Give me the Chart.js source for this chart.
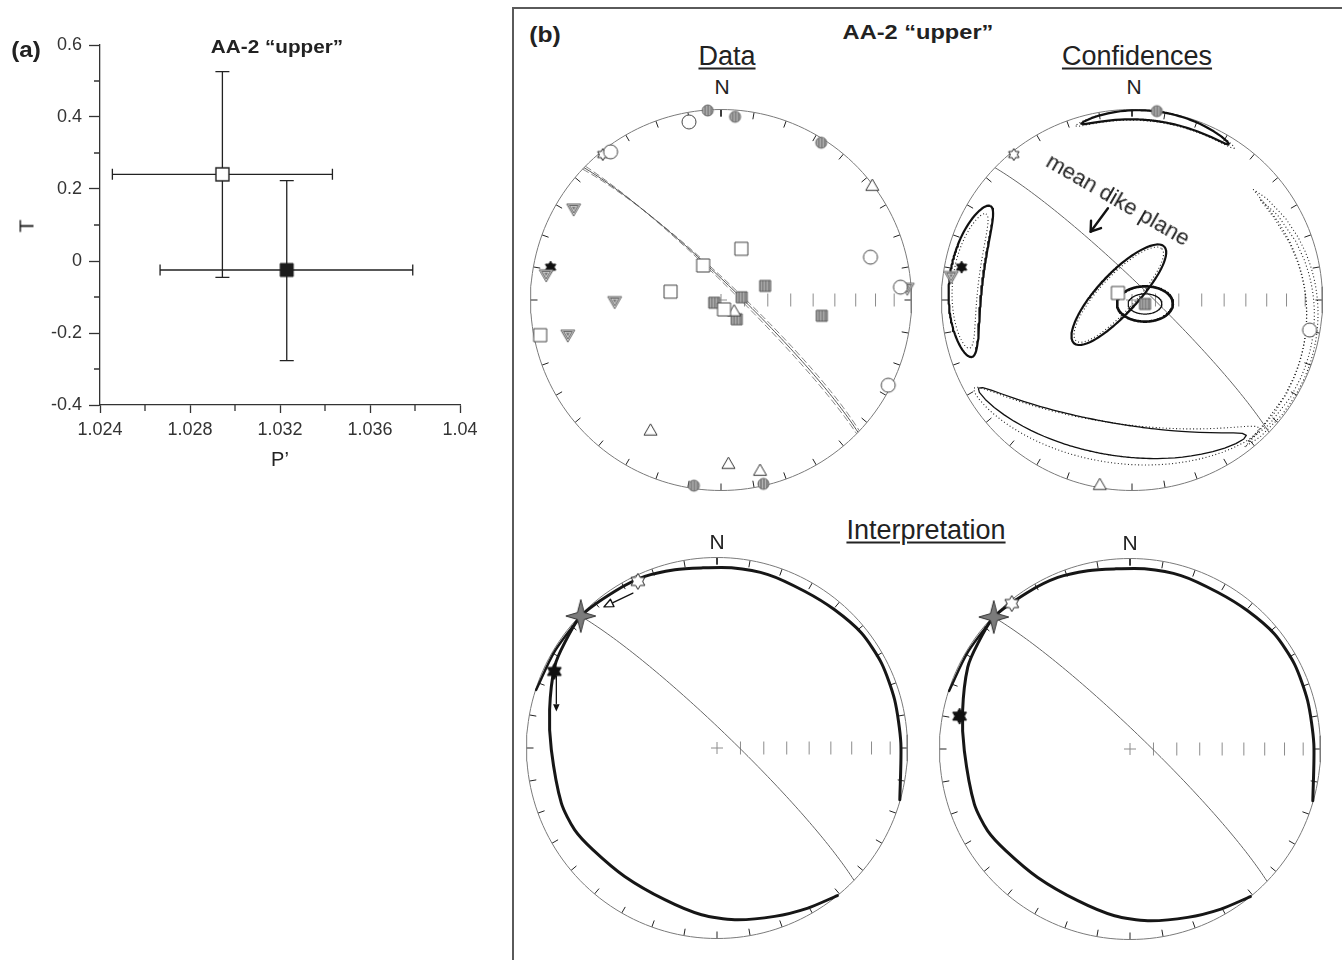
<!DOCTYPE html>
<html>
<head>
<meta charset="utf-8">
<title>AA-2 upper</title>
<script src="https://cdn.jsdelivr.net/npm/chart.js@4.4.1/dist/chart.umd.min.js"></script>
<style>
  html, body { margin: 0; padding: 0; background: #fff; }
  body { position: relative; width: 1342px; height: 960px; overflow: hidden;
         font-family: "Liberation Sans", Arial, Helvetica, sans-serif; color: #222; }
  canvas { position: absolute; }
  .lbl { position: absolute; line-height: 1; white-space: nowrap; transform: translate(-50%, -50%); }
  .b { font-weight: bold; }
  .u { text-decoration: underline; text-decoration-thickness: 2px; text-underline-offset: 3px; }
  #frameB { position: absolute; left: 512px; top: 7px; width: 900px; height: 1000px;
            border-left: 2px solid #5a5a5a; border-top: 2px solid #5a5a5a; }
</style>
</head>
<body>
<div id="frameB"></div>
<canvas id="chartA" width="500" height="490" style="left:0;top:0"></canvas>
<canvas id="netData" width="400" height="400" style="left:521px;top:100px"></canvas>
<canvas id="netConf" width="400" height="400" style="left:932px;top:100px"></canvas>
<canvas id="netInterpA" width="400" height="400" style="left:517px;top:548px"></canvas>
<canvas id="netInterpB" width="400" height="400" style="left:930px;top:549px"></canvas>

<div class="lbl b" style="left:26px;top:50px;font-size:22px;transform:translate(-50%,-50%) scaleX(1.1)">(a)</div>
<div class="lbl b" style="left:277px;top:47px;font-size:18px;transform:translate(-50%,-50%) scaleX(1.15)">AA-2 “upper”</div>
<div class="lbl" style="left:26px;top:226px;font-size:21px;transform:translate(-50%,-50%) rotate(-90deg)">T</div>
<div class="lbl" style="left:280px;top:459px;font-size:20px">P’</div>

<div class="lbl b" style="left:545px;top:35px;font-size:22px;transform:translate(-50%,-50%) scaleX(1.12)">(b)</div>
<div class="lbl b" style="left:918px;top:32px;font-size:20px;transform:translate(-50%,-50%) scaleX(1.18)">AA-2 “upper”</div>
<div class="lbl u" style="left:727px;top:56px;font-size:27px">Data</div>
<div class="lbl u" style="left:1137px;top:56px;font-size:27px">Confidences</div>
<div class="lbl u" style="left:926px;top:530px;font-size:27px">Interpretation</div>
<div class="lbl" style="left:722px;top:86px;font-size:21px">N</div>
<div class="lbl" style="left:1134px;top:86px;font-size:21px">N</div>
<div class="lbl" style="left:717px;top:541px;font-size:21px">N</div>
<div class="lbl" style="left:1130px;top:542px;font-size:21px">N</div>
<div class="lbl" style="left:1118px;top:200px;font-size:22px;transform:translate(-50%,-50%) rotate(30deg)">mean dike plane</div>

<script>
// ---- (a) P' vs T: site means with confidence limits ----
const pPrime = [1.02944, 1.0323];
const tShape = [0.2407, -0.025];
const pLow = [1.02455, 1.02667];
const pHigh = [1.03433, 1.0379];
const tLow = [-0.0454, -0.2769];
const tHigh = [0.5259, 0.2231];
const xTickValues = [1.024, 1.028, 1.032, 1.036, 1.04];
const yTickValues = [-0.4, -0.2, 0, 0.2, 0.4, 0.6];
const xMinorValues = [1.026, 1.03, 1.034, 1.038];
const yMinorValues = [-0.3, -0.1, 0.1, 0.3, 0.5];

// ---- (b) principal axes, [trend, plunge] in degrees ----
const amsK1 = [[21.7, 66.4], [332.7, 73.4], [279.4, 68.1], [162.1, 85.8], [259, 3.7]];
const amsK2 = [[52.9, 0.5], [130.2, 82.7], [208.4, 23.3], [177.4, 15.1], [167.1, 9]];
const amsK3 = [[349.8, 5.6], [323.3, 3.4], [74, 19.5], [85.9, 6.2], [117, 1.7]];
const aarmK1 = [[72.3, 70.2], [82.6, 81.1], [248.1, 86.9], [140.9, 79.4], [98.9, 45.5]];
const aarmK2 = [[301.7, 10], [278.2, 8.1], [86.4, 2.3], [269.1, 43.5], [257.1, 18.6]];
const aarmK3 = [[356, 0.3], [4.4, 4], [32.5, 2.4], [188.3, 1.7], [167, 1.1]];
const starOpen = [[320.9, 1.8]];
const starSolid = [[280.9, 9.8]];

// means
const meanAmsK1 = [[296.6, 83.3]];
const meanAmsK2 = [[189.9, 1.8]];
const meanAmsK3 = [[99.6, 6.1]];
const meanAarmK1 = [[107, 84.2]];
const meanAarmK2 = [[277.4, 4.8]];
const meanAarmK3 = [[7.5, 0]];

// mean dike plane and its spread: [dip direction, dip]
const dikePlane = [44, 83.3];
const dikePlaneLow = [43.4, 82.6];
const dikePlaneHigh = [44.6, 84.1];

// confidence regions: [trend, plunge, semi-axis a, semi-axis b, azimuth of a, bend]
const amsK1Region = [293, 83.5, 28.4, 8.5, 43, 0];
const amsK1Boot = [293, 83.5, 27, 7.5, 43, 0];
const amsK2Region = [190, 27, 50, 8, 280, -11];
const amsK2Boot = [188, 25, 53, 10, 278, -11];
const amsK3Boot = [95, 5.5, 47, 3.2, 177, 6];
const amsK3Boot2 = [96, 6.5, 44, 2.2, 178, 6];
const aarmK1Region = [107, 84.2, 11.9, 7.5, 90, 0];
const aarmK1Inner = [107, 84.2, 7.2, 4.3, 90, 0];
const aarmK2Region = [277, 13, 26, 9, 7, 0];
const aarmK2Boot = [277, 13, 23, 7, 7, 0];
const aarmK3Region = [8, 3, 24, 2.8, 98, 1.5];
const aarmK3Boot = [8, 3.3, 26, 3, 98, 1.5];

// interpretation path and moved directions
const pathTrend = [140.8, 150.4, 161.1, 174.1, 185.3, 199.0, 215.7, 230.6, 240.1, 250.5, 269.4, 282.9, 296.7, 304.6,
  314.1, 326.8, 337.2, 346.7, 355.0, 4.6, 16.4, 29.2, 40.4, 51.5, 62.7, 74.8, 88.4, 105.8];
const pathPlunge = [0, 3.8, 7.3, 10.3, 13.1, 16.9, 18.1, 16.9, 14.9, 14.4, 14.1, 10.8, 5.2, 3.2,
  0.5, 2.0, 2.6, 4.3, 5.7, 5.7, 5.7, 6.4, 5.3, 3.5, 3.2, 3.8, 3.9, 0.3];
const branchTrend = [314.1, 301, 287.8];
const branchPlunge = [0.5, 1.0, 0.3];
const strikeStar = [[314.1, 0.5]];
const starOpenMoved = [[334.6, 3.6]];
const starSolidMoved = [[295.2, 6.3]];
const moveOpen = [[331.5, 8.3], [321.3, 5.7]];
const moveSolid = [[294, 8.5], [282.8, 14.6]];
const labelArrow = [[345.3, 48.8], [328.8, 55.5]];

Chart.defaults.font.family = '"Liberation Sans", Arial, Helvetica, sans-serif';
Chart.defaults.color = '#333';

const DEG = Math.PI / 180;
const NET_R = 190.5;
const LIM = 200 / NET_R;

function dirVec(trend, plunge) {
  const t = trend * DEG, p = plunge * DEG;
  return [Math.cos(p) * Math.cos(t), Math.cos(p) * Math.sin(t), Math.sin(p)];
}
// lower hemisphere equal-area, primitive radius 1
function toNet(v) {
  let [n, e, d] = v;
  if (d < 0) { n = -n; e = -e; d = -d; }
  const h = Math.hypot(n, e);
  const r = Math.SQRT2 * Math.sin(Math.acos(Math.min(1, d)) / 2);
  return h < 1e-12 ? { x: 0, y: 0 } : { x: r * e / h, y: r * n / h };
}
const projectAll = list => list.map(([t, p]) => toNet(dirVec(t, p)));
const zip = (a, b) => a.map((v, i) => [v, b[i]]);
const GAP = { x: null, y: null };

function greatCircle([dipDir, dip]) {
  const s = dirVec(dipDir - 90, 0), dv = dirVec(dipDir, dip);
  const out = [];
  for (let w = 0; w <= 180; w += 2) {
    const c = Math.cos(w * DEG), sn = Math.sin(w * DEG);
    out.push(toNet([s[0] * c + dv[0] * sn, s[1] * c + dv[1] * sn, s[2] * c + dv[2] * sn]));
  }
  return out;
}

function region([trend, plunge, a, b, axisAz, bend]) {
  const c = dirVec(trend, plunge);
  const t = trend * DEG, p = plunge * DEG;
  const eH = [-Math.sin(t), Math.cos(t), 0];
  const eD = [-Math.sin(p) * Math.cos(t), -Math.sin(p) * Math.sin(t), Math.cos(p)];
  const al = (axisAz - trend - 90) * DEG;
  const out = [];
  let lastSign = null;
  for (let k = 0; k <= 180; k++) {
    const psi = k * 2 * Math.PI / 180;
    const rho = a * b / Math.hypot(b * Math.cos(psi), a * Math.sin(psi));
    const u = rho * Math.cos(psi);
    const v = rho * Math.sin(psi) + bend * (u / a) ** 2;
    const U = u * Math.cos(al) - v * Math.sin(al);
    const V = u * Math.sin(al) + v * Math.cos(al);
    const len = Math.hypot(U, V) || 1e-9;
    const ang = len * DEG;
    const vec = [0, 1, 2].map(i => c[i] * Math.cos(ang) + (U * eH[i] + V * eD[i]) / len * Math.sin(ang));
    const sign = vec[2] >= 0;
    if (lastSign !== null && sign !== lastSign) out.push(GAP);
    lastSign = sign;
    out.push(toNet(vec));
  }
  return out;
}

// ---- symbols ----
const hatchTile = (() => {
  const p = document.createElement('canvas');
  p.width = 3; p.height = 3;
  const g = p.getContext('2d');
  g.fillStyle = '#b2b2b2'; g.fillRect(0, 0, 3, 3);
  g.fillStyle = '#5a5a5a'; g.fillRect(0, 0, 1, 3);
  return p;
})();
function makeSymbol(size, paint) {
  const c = document.createElement('canvas');
  c.width = c.height = size + 4;
  const g = c.getContext('2d');
  g.translate(c.width / 2, c.height / 2);
  paint(g, size / 2);
  return c;
}
function finish(g, fill, stroke, w) {
  if (fill) { g.fillStyle = fill === 'hatch' ? g.createPattern(hatchTile, 'repeat') : fill; g.fill(); }
  if (stroke) { g.strokeStyle = stroke; g.lineWidth = w; g.stroke(); }
}
function tri(g, h, down) {
  const R = h / 0.866, s = down ? -1 : 1;
  g.beginPath();
  g.moveTo(0, -s * R);
  g.lineTo(h, s * R * 0.5);
  g.lineTo(-h, s * R * 0.5);
  g.closePath();
}
function star(g, outer, inner, n) {
  g.beginPath();
  for (let i = 0; i < 2 * n; i++) {
    const r = i % 2 ? inner : outer, a = -Math.PI / 2 + i * Math.PI / n;
    g.lineTo(r * Math.cos(a), r * Math.sin(a));
  }
  g.closePath();
}
const SYM = {
  openSquare: makeSymbol(13, (g, h) => { g.beginPath(); g.rect(-h, -h, 2 * h, 2 * h); finish(g, '#fff', '#444', 1); }),
  greySquare: makeSymbol(11, (g, h) => { g.beginPath(); g.rect(-h, -h, 2 * h, 2 * h); finish(g, 'hatch', '#555', 1); }),
  openCircle: makeSymbol(14, (g, h) => { g.beginPath(); g.arc(0, 0, h, 0, 2 * Math.PI); finish(g, '#fff', '#444', 1); }),
  greyCircle: makeSymbol(11, (g, h) => { g.beginPath(); g.arc(0, 0, h, 0, 2 * Math.PI); finish(g, 'hatch', '#666', 1); }),
  openTri: makeSymbol(13, (g, h) => { g.translate(0, 1); tri(g, h, false); finish(g, '#fff', '#333', 1); }),
  nestedTri: makeSymbol(14, (g, h) => {
    g.translate(0, -1);
    tri(g, h, true); finish(g, '#d6d6d6', '#666', 1);
    tri(g, h * 0.62, true); finish(g, null, '#666', 1);
    tri(g, h * 0.28, true); finish(g, '#777', null, 0);
  }),
  star6Open: makeSymbol(12, (g, h) => { star(g, h, h * 0.58, 6); finish(g, '#fff', '#222', 1); }),
  star6Solid: makeSymbol(12, (g, h) => { star(g, h, h * 0.58, 6); finish(g, '#111', '#111', 1); }),
  bigStar6Open: makeSymbol(16, (g, h) => { star(g, h, h * 0.58, 6); finish(g, '#fff', '#222', 1); }),
  bigStar6Solid: makeSymbol(16, (g, h) => { star(g, h, h * 0.58, 6); finish(g, '#111', '#111', 1); }),
  star4Grey: makeSymbol(34, (g) => {
    const pts = [[0, -16.5], [3.4, -3.4], [15, 0], [3.4, 3.4], [0, 16.5], [-3.4, 3.4], [-15, 0], [-3.4, -3.4]];
    g.beginPath(); pts.forEach(([x, y]) => g.lineTo(x, y)); g.closePath();
    finish(g, '#7b7b7b', '#333', 1);
  }),
  squareOpenA: makeSymbol(13, (g, h) => { g.beginPath(); g.rect(-h, -h, 2 * h, 2 * h); finish(g, '#fff', '#222', 1.4); }),
  squareSolidA: makeSymbol(13, (g, h) => { g.beginPath(); g.rect(-h, -h, 2 * h, 2 * h); finish(g, '#1c1c1c', '#1c1c1c', 1); })
};

// ---- panel (a) ----
const errorBars = {
  id: 'errorBars',
  beforeDatasetsDraw(chart) {
    const { ctx, scales: { x, y } } = chart;
    ctx.save();
    ctx.strokeStyle = '#222';
    ctx.lineWidth = 1.3;
    pPrime.forEach((p, i) => {
      const px = x.getPixelForValue(p), py = y.getPixelForValue(tShape[i]);
      const yTop = y.getPixelForValue(tHigh[i]), yBot = y.getPixelForValue(tLow[i]);
      const xL = x.getPixelForValue(pLow[i]), xR = x.getPixelForValue(pHigh[i]);
      ctx.beginPath();
      ctx.moveTo(px, yTop); ctx.lineTo(px, yBot);
      ctx.moveTo(px - 7, yTop); ctx.lineTo(px + 7, yTop);
      ctx.moveTo(px - 7, yBot); ctx.lineTo(px + 7, yBot);
      ctx.moveTo(xL, py); ctx.lineTo(xR, py);
      ctx.moveTo(xL, py - 5.5); ctx.lineTo(xL, py + 5.5);
      ctx.moveTo(xR, py - 5.5); ctx.lineTo(xR, py + 5.5);
      ctx.stroke();
    });
    ctx.restore();
  }
};
const minorTicks = {
  id: 'minorTicks',
  afterDraw(chart) {
    const { ctx, scales: { x, y }, chartArea } = chart;
    ctx.save();
    ctx.strokeStyle = '#333';
    ctx.lineWidth = 1.3;
    ctx.beginPath();
    xMinorValues.forEach(v => {
      const px = x.getPixelForValue(v);
      ctx.moveTo(px, chartArea.bottom); ctx.lineTo(px, chartArea.bottom + 6);
    });
    yMinorValues.forEach(v => {
      const py = y.getPixelForValue(v);
      ctx.moveTo(chartArea.left, py); ctx.lineTo(chartArea.left - 6, py);
    });
    ctx.stroke();
    ctx.restore();
  }
};
const fmt = v => String(+(+v).toFixed(3));
new Chart(document.getElementById('chartA'), {
  type: 'scatter',
  data: {
    datasets: [
      { data: [{ x: pPrime[0], y: tShape[0] }], pointStyle: SYM.squareOpenA, pointRadius: 6 },
      { data: [{ x: pPrime[1], y: tShape[1] }], pointStyle: SYM.squareSolidA, pointRadius: 6 }
    ]
  },
  options: {
    responsive: false, animation: false, events: [], devicePixelRatio: 1,
    layout: { autoPadding: false, padding: { left: 0, top: 45, right: 40, bottom: 0 } },
    plugins: { legend: { display: false }, tooltip: { enabled: false } },
    scales: {
      x: {
        type: 'linear', min: 1.024, max: 1.04,
        afterBuildTicks: s => { s.ticks = xTickValues.map(value => ({ value })); },
        afterFit: s => { s.height = 85; },
        border: { display: true, color: '#333', width: 1.3 },
        grid: { display: true, drawOnChartArea: false, tickLength: 8, tickColor: '#333', tickWidth: 1.3 },
        ticks: { callback: fmt, font: { size: 18 }, color: '#333', padding: 6, maxRotation: 0 }
      },
      y: {
        type: 'linear', min: -0.4, max: 0.6,
        afterBuildTicks: s => { s.ticks = yTickValues.map(value => ({ value })); },
        afterFit: s => { s.width = 100; },
        border: { display: true, color: '#333', width: 1.3 },
        grid: { display: true, drawOnChartArea: false, tickLength: 11, tickColor: '#333', tickWidth: 1.3 },
        ticks: { callback: fmt, font: { size: 18 }, color: '#333', padding: 7 }
      }
    }
  },
  plugins: [errorBars, minorTicks]
});

// ---- stereonets ----
function line(data, color, width, dash, order, extra) {
  return Object.assign({ data, showLine: true, borderColor: color, borderWidth: width, borderDash: dash || [],
    pointRadius: 0, fill: false, tension: 0, order, borderJoinStyle: 'round' }, extra || {});
}
function marks(list, symbol) {
  return { data: projectAll(list), pointStyle: symbol, pointRadius: 6, showLine: false, order: 0 };
}
function frame() {
  const prim = [];
  for (let a = 0; a <= 360; a += 2) prim.push({ x: Math.sin(a * DEG), y: Math.cos(a * DEG) });
  const ticks = [];
  const tl = 1 - 7 / NET_R;
  for (let a = 0; a < 360; a += 10) {
    const s = Math.sin(a * DEG), c = Math.cos(a * DEG);
    ticks.push({ x: s, y: c }, { x: s * tl, y: c * tl }, GAP);
  }
  const radial = [];
  const h = 6.5 / NET_R;
  for (let p = 80; p >= 10; p -= 10) {
    const x = toNet(dirVec(90, p)).x;
    radial.push({ x, y: -h }, { x, y: h }, GAP);
  }
  const k = 6 / NET_R;
  radial.push({ x: -k, y: 0 }, { x: k, y: 0 }, GAP, { x: 0, y: -k }, { x: 0, y: k });
  return [
    line(prim, '#7a7a7a', 1, [], 9),
    line(ticks, '#222', 1, [], 9),
    line(radial, '#8c8c8c', 1, [], 9)
  ];
}
function arrows(items) {
  return {
    id: 'arrows',
    afterDatasetsDraw(chart) {
      const { ctx, scales: { x, y } } = chart;
      items.forEach(({ path, head, width, size }) => {
        const a = projectAll([path[0]])[0], b = projectAll([path[1]])[0];
        const x1 = x.getPixelForValue(a.x), y1 = y.getPixelForValue(a.y);
        const x2 = x.getPixelForValue(b.x), y2 = y.getPixelForValue(b.y);
        const ang = Math.atan2(y2 - y1, x2 - x1);
        ctx.save();
        ctx.strokeStyle = '#111'; ctx.fillStyle = '#111'; ctx.lineWidth = width;
        ctx.lineCap = 'round'; ctx.lineJoin = 'round';
        const back = head === 'chevron' ? 0 : size;
        ctx.beginPath(); ctx.moveTo(x1, y1);
        ctx.lineTo(x2 - Math.cos(ang) * back, y2 - Math.sin(ang) * back); ctx.stroke();
        const spread = head === 'chevron' ? 0.6 : 0.42;
        const pA = [x2 - size * Math.cos(ang - spread), y2 - size * Math.sin(ang - spread)];
        const pB = [x2 - size * Math.cos(ang + spread), y2 - size * Math.sin(ang + spread)];
        ctx.beginPath();
        if (head === 'chevron') {
          ctx.moveTo(pA[0], pA[1]); ctx.lineTo(x2, y2); ctx.lineTo(pB[0], pB[1]); ctx.stroke();
        } else {
          ctx.moveTo(x2, y2); ctx.lineTo(pA[0], pA[1]); ctx.lineTo(pB[0], pB[1]); ctx.closePath();
          if (head === 'open') { ctx.fillStyle = '#fff'; ctx.fill(); ctx.lineWidth = 1.4; ctx.stroke(); }
          else ctx.fill();
        }
        ctx.restore();
      });
    }
  };
}
function makeNet(id, datasets, plugins) {
  return new Chart(document.getElementById(id), {
    type: 'scatter',
    data: { datasets },
    options: {
      responsive: false, animation: false, events: [], devicePixelRatio: 1,
      layout: { autoPadding: false, padding: 0 },
      plugins: { legend: { display: false }, tooltip: { enabled: false } },
      scales: {
        x: { type: 'linear', min: -LIM, max: LIM, display: false },
        y: { type: 'linear', min: -LIM, max: LIM, display: false }
      }
    },
    plugins: plugins || []
  });
}

const thinPlane = '#666';
const solidRegion = (r, w) => line(region(r), '#111', w, [], 3);
const dottedRegion = r => line(region(r), '#222', 1.1, [1, 2.4], 4);

makeNet('netData', [
  marks(amsK1, SYM.openSquare), marks(amsK2, SYM.openTri), marks(amsK3, SYM.openCircle),
  marks(aarmK1, SYM.greySquare), marks(aarmK2, SYM.nestedTri), marks(aarmK3, SYM.greyCircle),
  marks(starOpen, SYM.star6Open), marks(starSolid, SYM.star6Solid),
  line(greatCircle(dikePlane), '#555', 1, [], 5),
  line(greatCircle(dikePlaneLow), '#777', 0.9, [7, 3], 5),
  line(greatCircle(dikePlaneHigh), '#777', 0.9, [7, 3], 5),
  ...frame()
]);

makeNet('netConf', [
  marks(meanAmsK1, SYM.openSquare), marks(meanAmsK2, SYM.openTri), marks(meanAmsK3, SYM.openCircle),
  marks(meanAarmK1, SYM.greySquare), marks(meanAarmK2, SYM.nestedTri), marks(meanAarmK3, SYM.greyCircle),
  marks(starOpen, SYM.star6Open), marks(starSolid, SYM.star6Solid),
  solidRegion(amsK1Region, 2.2), dottedRegion(amsK1Boot),
  solidRegion(amsK2Region, 1.3), dottedRegion(amsK2Boot),
  dottedRegion(amsK3Boot), dottedRegion(amsK3Boot2),
  solidRegion(aarmK1Region, 2.6), solidRegion(aarmK1Inner, 1.2),
  solidRegion(aarmK2Region, 2.2), dottedRegion(aarmK2Boot),
  solidRegion(aarmK3Region, 2.2), dottedRegion(aarmK3Boot),
  line(greatCircle(dikePlane), thinPlane, 1, [], 5),
  ...frame()
], [arrows([{ path: labelArrow, head: 'chevron', width: 2.4, size: 11 }])]);

const pathData = projectAll(zip(pathTrend, pathPlunge));
const branchData = projectAll(zip(branchTrend, branchPlunge));
const interpLines = () => [
  line(pathData, '#161616', 3, [], 3, { tension: 0.25, borderCapStyle: 'round' }),
  line(branchData, '#161616', 2.4, [], 3, { tension: 0.3, borderCapStyle: 'round' }),
  line(greatCircle(dikePlane), thinPlane, 1, [], 5),
  ...frame()
];

makeNet('netInterpA', [
  marks(strikeStar, SYM.star4Grey),
  marks(starOpenMoved, SYM.bigStar6Open), marks(starSolidMoved, SYM.bigStar6Solid),
  ...interpLines()
], [arrows([
  { path: moveOpen, head: 'open', width: 1.3, size: 10 },
  { path: moveSolid, head: 'solid', width: 1.3, size: 8 }
])]);

makeNet('netInterpB', [
  marks(strikeStar, SYM.star4Grey),
  marks(starOpen, SYM.bigStar6Open), marks(starSolid, SYM.bigStar6Solid),
  ...interpLines()
]);
</script>
</body>
</html>
